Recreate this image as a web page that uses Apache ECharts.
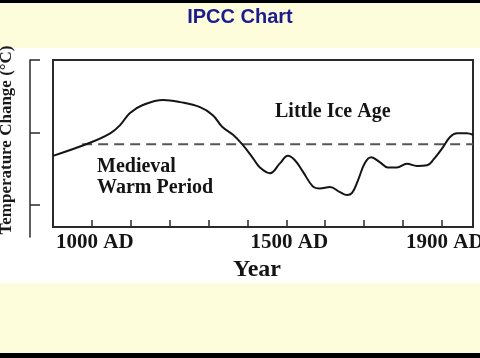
<!DOCTYPE html>
<html>
<head>
<meta charset="utf-8">
<script src="https://cdn.jsdelivr.net/npm/echarts@6/dist/echarts.min.js"></script>
<style>html,body{margin:0;padding:0;}#c{width:480px;height:358px;}</style>
</head>
<body>
<div id="c"></div>
<script>
// Data (year, temperature change in arbitrary °C units)
const years = [900, 995, 1047, 1072, 1098, 1131, 1183, 1227, 1278, 1311, 1335, 1363, 1388, 1414, 1432, 1458, 1484, 1504, 1522, 1543, 1568, 1586, 1612, 1638, 1656, 1669, 1684, 1702, 1718, 1741, 1761, 1784, 1810, 1836, 1862, 1877, 1903, 1921, 1939, 1964, 1980];
const temps = [-0.32, -0.14, -0.01, 0.10, 0.27, 0.38, 0.45, 0.42, 0.35, 0.24, 0.08, -0.03, -0.17, -0.35, -0.48, -0.56, -0.42, -0.32, -0.38, -0.54, -0.74, -0.77, -0.75, -0.82, -0.86, -0.83, -0.66, -0.42, -0.34, -0.41, -0.48, -0.48, -0.43, -0.46, -0.45, -0.38, -0.20, -0.06, -0.01, -0.01, -0.03];
const refYears = [975, 1980];
const refTemps = [-0.16, -0.16];
const xTickLabels = [1000, 1500, 1900];
const yTicks = [-1, 0, 1];
const title = 'IPCC Chart';
const yName = 'Temperature Change (°C)';
const xName = 'Year';
const notes = ['Medieval', 'Warm Period', 'Little Ice Age'];

const curve = years.map((y, i) => [y, temps[i]]);
const ref = refYears.map((y, i) => [y, refTemps[i]]);
const serif = '"Liberation Serif", "Times New Roman", serif';

const chart = echarts.init(document.getElementById('c'), null, {renderer: 'canvas'});
chart.setOption({
  backgroundColor: '#fdfddc',
  animation: false,
  grid: [
    {left: 53, top: 60, width: 420, height: 167, show: true, containLabel: false, outerBoundsMode: 'none', borderColor: '#2a2a2a', borderWidth: 2, backgroundColor: 'transparent'},
    {left: 30, top: 60, width: 10, height: 177, containLabel: false, outerBoundsMode: 'none'}
  ],
  xAxis: [
    {
      type: 'value', gridIndex: 0, min: 900, max: 1980, interval: 100, position: 'bottom',
      axisLine: {show: true, onZero: false, lineStyle: {color: '#2a2a2a', width: 2}},
      axisTick: {show: true, inside: true, length: 7, lineStyle: {color: '#2a2a2a', width: 1.5}},
      splitLine: {show: false},
      axisLabel: {
        show: true, customValues: xTickLabels, margin: 5, padding: [0, 0, 0, 6],
        formatter: v => v + ' AD', hideOverlap: false,
        fontFamily: serif, fontWeight: 'bold', fontSize: 21, color: '#141414'
      }
    },
    {type: 'value', gridIndex: 1, show: false}
  ],
  yAxis: [
    {type: 'value', gridIndex: 0, min: -1.3, max: 1, show: false, splitLine: {show: false}},
    {
      type: 'value', gridIndex: 1, min: -1.44, max: 1,
      axisLine: {show: true, onZero: false, lineStyle: {color: '#2a2a2a', width: 1.5}},
      axisTick: {show: true, inside: true, length: 10, customValues: yTicks, lineStyle: {color: '#2a2a2a', width: 1.5}},
      axisLabel: {show: false},
      splitLine: {show: false}
    }
  ],
  series: [
    {
      type: 'line', xAxisIndex: 0, yAxisIndex: 0, data: ref, symbol: 'none',
      lineStyle: {color: '#555', width: 1.8, type: [10, 6]}, z: 2
    },
    {
      type: 'line', xAxisIndex: 0, yAxisIndex: 0, data: curve, symbol: 'none', smooth: 0.4,
      lineStyle: {color: '#151515', width: 2}, z: 3
    }
  ],
  graphic: [
    {type: 'rect', z: -10, silent: true, shape: {x: 0, y: 48, width: 480, height: 235}, style: {fill: '#ffffff'}},
    {type: 'rect', z: -10, silent: true, shape: {x: 0, y: 0, width: 480, height: 3}, style: {fill: '#000'}},
    {type: 'rect', z: -10, silent: true, shape: {x: 0, y: 353, width: 480, height: 5}, style: {fill: '#000'}},
    {type: 'text', z: 100, x: 240, y: 17, style: {text: title, align: 'center', verticalAlign: 'middle', fill: '#1c1c8e', font: 'bold 20px "Liberation Sans", Arial, sans-serif'}},
    {type: 'text', z: 100, x: 7, y: 140, rotation: Math.PI / 2, style: {text: yName, align: 'center', verticalAlign: 'middle', fill: '#1a1a1a', font: 'bold 17px ' + serif}},
    {type: 'text', z: 100, x: 257, y: 270, style: {text: xName, align: 'center', verticalAlign: 'middle', fill: '#141414', font: 'bold 24px ' + serif}},
    {type: 'text', z: 100, x: 97, y: 167, style: {text: notes[0], align: 'left', verticalAlign: 'middle', fill: '#141414', font: 'bold 20px ' + serif}},
    {type: 'text', z: 100, x: 97, y: 188, style: {text: notes[1], align: 'left', verticalAlign: 'middle', fill: '#141414', font: 'bold 20px ' + serif}},
    {type: 'text', z: 100, x: 275, y: 112, style: {text: notes[2], align: 'left', verticalAlign: 'middle', fill: '#141414', font: 'bold 20px ' + serif}}
  ]
});
</script>
</body>
</html>
